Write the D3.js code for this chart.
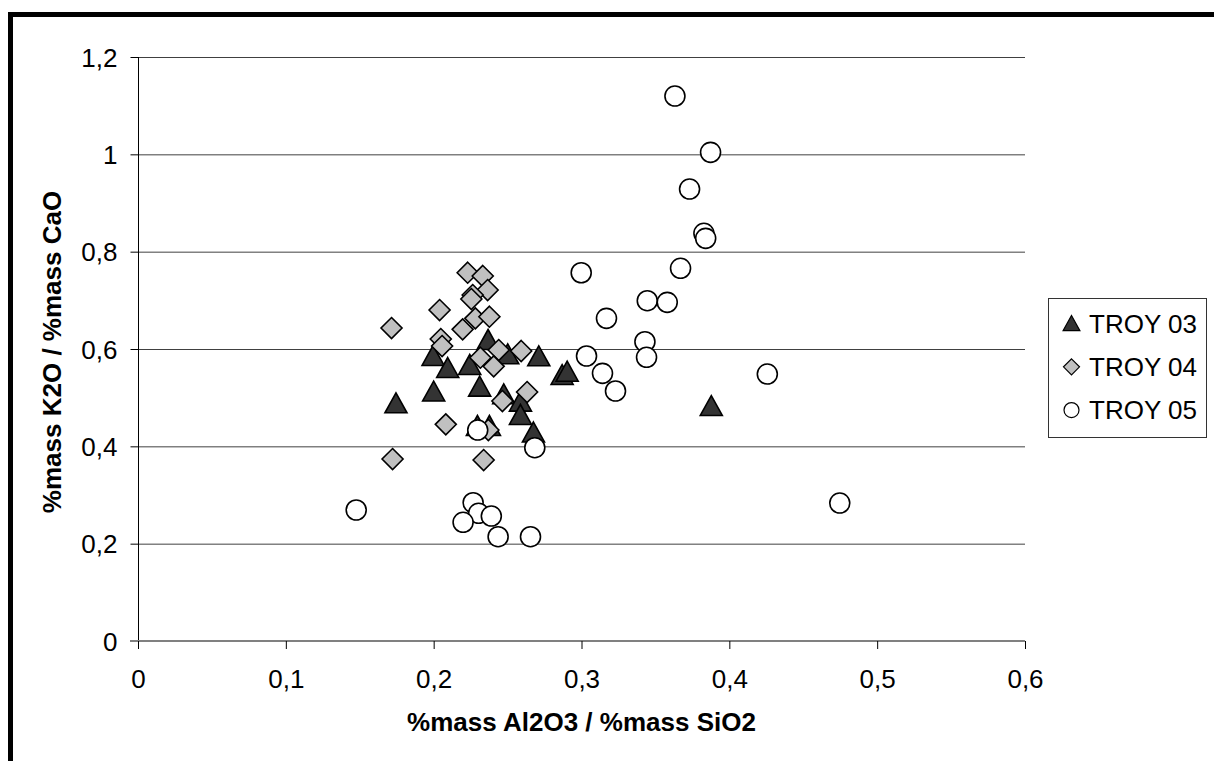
<!DOCTYPE html>
<html><head><meta charset="utf-8">
<script src="https://cdn.jsdelivr.net/npm/d3@7"></script>
<style>
html,body{margin:0;padding:0;background:#fff;}
svg{display:block;font-family:"Liberation Sans",Arial,sans-serif;}
</style></head>
<body>
<svg id="chart" width="1214" height="761"></svg>
<script>
// ---- data ----
const seriesNames = ["TROY 03", "TROY 04", "TROY 05"];
const troy03X = [0.2368,0.1996,0.2095,0.2244,0.2501,0.2711,0.2869,0.2903,0.2311,0.2000,0.1745,0.2474,0.2587,0.2587,0.2675,0.2377,0.2296,0.3878];
const troy03Y = [0.6185,0.5856,0.5609,0.5671,0.5891,0.5850,0.5465,0.5533,0.5225,0.5126,0.4884,0.5069,0.4917,0.4644,0.4284,0.4418,0.4418,0.4828];
const troy04X = [0.2230,0.2332,0.2365,0.2264,0.2255,0.2040,0.2282,0.2377,0.2196,0.1715,0.2048,0.2057,0.2440,0.2592,0.2316,0.2406,0.2632,0.2465,0.2082,0.1722,0.2338,0.2370];
const troy04Y = [0.7567,0.7500,0.7212,0.7109,0.7027,0.6801,0.6630,0.6663,0.6404,0.6431,0.6205,0.6061,0.5979,0.5959,0.5821,0.5644,0.5116,0.4931,0.4452,0.3739,0.3719,0.4335];
const troy05X = [0.3632,0.3873,0.3731,0.3828,0.3840,0.2998,0.3670,0.3445,0.3580,0.3169,0.3429,0.3440,0.3034,0.3142,0.3230,0.4257,0.2298,0.2684,0.2267,0.2304,0.2199,0.2390,0.2436,0.2655,0.1476,0.4747];
const troy05Y = [1.1198,1.0041,0.9287,0.8377,0.8274,0.7567,0.7658,0.6992,0.6959,0.6630,0.6150,0.5829,0.5856,0.5500,0.5137,0.5486,0.4335,0.3972,0.2842,0.2624,0.2439,0.2568,0.2143,0.2143,0.2692,0.2835];
const xTicks = [0,0.1,0.2,0.3,0.4,0.5,0.6];
const yTicks = [0,0.2,0.4,0.6,0.8,1,1.2];
const xTitle = "%mass Al2O3 / %mass SiO2";
const yTitle = "%mass K2O / %mass CaO";

// ---- layout ----
const svg = d3.select("#chart");
const L = 138, R = 1025, T = 57, B = 641;
const FS = 26;
const x = d3.scaleLinear().domain([0,0.6]).range([L,R]);
const y = d3.scaleLinear().domain([0,1.2]).range([B,T]);
const fmt = d => String(+d.toFixed(2)).replace(".", ",");

// frame (top & left heavy borders)
svg.append("rect").attr("x",8).attr("y",12).attr("width",1214-8).attr("height",5).attr("fill","#000");
svg.append("rect").attr("x",8).attr("y",12).attr("width",5).attr("height",761-12).attr("fill","#000");

// gridlines
svg.append("g").selectAll("line").data(yTicks.filter(d=>d>0)).join("line")
  .attr("x1",L).attr("x2",R).attr("y1",d=>y(d)+0.5).attr("y2",d=>y(d)+0.5)
  .attr("stroke","#404040").attr("stroke-width",1);

// y axis
const yAxis = svg.append("g").attr("transform",`translate(${L+0.5},0)`)
  .call(d3.axisLeft(y).tickValues(yTicks).tickFormat(fmt).tickSize(8).tickPadding(13));
yAxis.attr("font-size",FS).attr("font-family",null);
yAxis.select(".domain").attr("stroke","#000").attr("d",`M0,${T}V${B}`);
yAxis.selectAll(".tick line").attr("stroke","#000");
yAxis.selectAll("text").attr("fill","#000").attr("dy","0.35em");

// x axis
const xAxis = svg.append("g").attr("transform",`translate(0,${B})`)
  .call(d3.axisBottom(x).tickValues(xTicks).tickFormat(fmt).tickSize(8).tickPadding(17));
xAxis.attr("font-size",FS).attr("font-family",null);
xAxis.select(".domain").attr("stroke","#808080").attr("stroke-width",2).attr("d",`M${L-8},0H${R}`);
xAxis.selectAll(".tick line").attr("stroke","#000");
xAxis.selectAll("text").attr("fill","#000").attr("y",38).attr("dy","0.35em");

// titles
svg.append("text").attr("x",(L+R)/2).attr("y",722).attr("dy","0.35em").attr("text-anchor","middle")
  .attr("font-size",FS).attr("font-weight","bold").text(xTitle);
svg.append("text").attr("transform",`translate(52,352) rotate(-90)`).attr("dy","0.35em").attr("text-anchor","middle")
  .attr("font-size",FS).attr("font-weight","bold").text(yTitle);

// markers
const triPath = s => `M0,${-s}L${s*1.05},${s*0.9}L${-s*1.05},${s*0.9}Z`;
const diaPath = s => `M0,${-s}L${s},0L0,${s}L${-s},0Z`;
const styles = [
  {fill:"#333333", draw:(g,s)=>g.append("path").attr("d",triPath(s))},
  {fill:"#c0c0c0", draw:(g,s)=>g.append("path").attr("d",diaPath(s))},
  {fill:"#ffffff", draw:(g,s)=>g.append("circle").attr("r",s)}
];
const allX = [troy03X, troy04X, troy05X];
const allY = [troy03Y, troy04Y, troy05Y];
allX.forEach((xs,si)=>{
  const g = svg.append("g");
  xs.forEach((xv,i)=>{
    const m = g.append("g").attr("transform",`translate(${x(xv)},${y(allY[si][i])})`);
    styles[si].draw(m, si===2?10:10.5).attr("fill",styles[si].fill).attr("stroke","#000").attr("stroke-width",1.6);
  });
});

// legend
const lg = svg.append("g");
lg.append("rect").attr("x",1048.5).attr("y",298.5).attr("width",158).attr("height",139)
  .attr("fill","#fff").attr("stroke","#333").attr("stroke-width",1);
seriesNames.forEach((n,i)=>{
  const cy = 323.5 + i*43.3;
  const m = lg.append("g").attr("transform",`translate(1071.5,${cy})`);
  styles[i].draw(m, i===2?7.5:8).attr("fill",styles[i].fill).attr("stroke","#000").attr("stroke-width",1.2);
  lg.append("text").attr("x",1089).attr("y",cy).attr("dy","0.36em").attr("font-size",FS).text(n);
});
</script>
</body></html>
